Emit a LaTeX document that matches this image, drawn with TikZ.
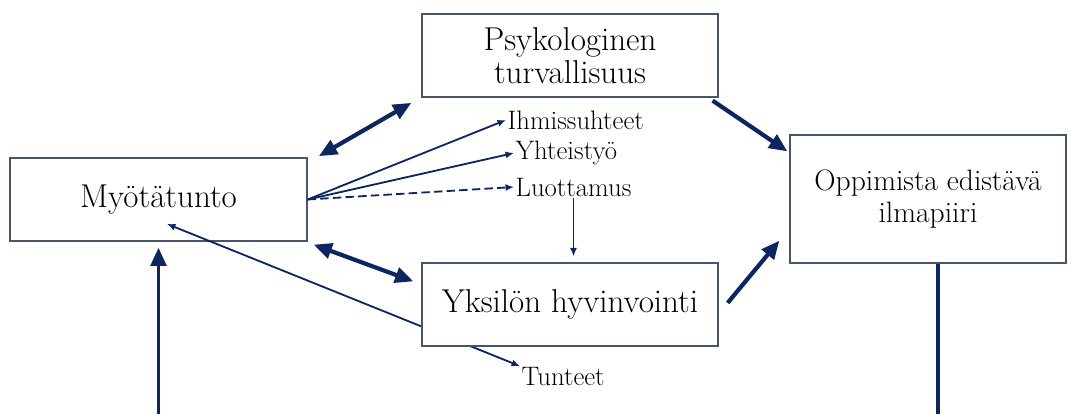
\documentclass[tikz,border=0pt]{standalone}
\usepackage{xcolor}
\usepackage{tikz}
\usetikzlibrary{arrows.meta, positioning, calc}
\definecolor{navy}{RGB}{14,38,96}
\definecolor{boxline}{RGB}{70,86,108}

\begin{document}
\begin{tikzpicture}[>={Latex[length=6pt,width=5pt]},
    laatikko/.style={rectangle,draw=boxline,line width=0.9pt,minimum width=7.4cm,minimum height=2.075cm,align=center,font=\fontsize{23.5}{26}\selectfont},
    pieni/.style={anchor=west,inner sep=1pt,font=\fontsize{19}{22}\selectfont},
    paksu/.style={line width=3pt,navy,>={Triangle[length=13pt,width=11pt]}},
    ohut/.style={line width=1.3pt,navy}]
    \useasboundingbox (0,0) rectangle (26.9,10.35);

    % Laatikot
    \node[laatikko] (psyk) at (14.25,8.9625) {Psykologinen\\[-3pt]turvallisuus};
    \node[laatikko,minimum width=7.425cm] (myot) at (3.9625,5.3625) {Myötätunto};
    \node[laatikko,minimum width=6.9cm,minimum height=3.2cm,font=\fontsize{21}{25}\selectfont] (opp) at (23.2,5.375) {Oppimista edistävä\\[-2pt]ilmapiiri};

    % Osatekijat
    \node[pieni] (ihm) at (12.65,7.35) {Ihmissuhteet};
    \node[pieni] (yht) at (12.85,6.525) {Yhteistyö};
    \node[pieni] (luot) at (12.85,5.675) {Luottamus};
    \node[pieni] (tun) at (13.0,0.925) {Tunteet};

    % Tunteet - viiva jaa laatikon alle
    \coordinate (myotin) at ($(myot.center)+(0.21,-0.61)$);
    \draw[<->,ohut] (myotin) -- (tun.north west);

    \node[laatikko,fill=white] (yks) at (14.25,2.7375) {Yksilön hyvinvointi};

    % Myotatunnosta lahtevat
    \draw[->,ohut] (myot.east) -- (ihm.west);
    \draw[->,ohut] (myot.east) -- (yht.west);
    \draw[->,ohut,dash pattern=on 6pt off 3pt] (myot.east) -- (luot.west);
    \draw[->,ohut] (luot.south) -- ([yshift=0.15cm]luot.south |- yks.north);

    % Paksut nuolet
    \draw[<->,paksu] ([shift={(0.28,0.03)}]myot.north east) -- ([shift={(-0.25,-0.13)}]psyk.south west);
    \draw[<->,paksu] ([shift={(0.15,-0.075)}]myot.south east) -- ([shift={(-0.2,-0.475)}]yks.north west);
    \draw[->,paksu] ([shift={(-0.15,-0.075)}]psyk.south east) -- ([shift={(-0.05,-0.425)}]opp.north west);
    \draw[->,paksu] ([shift={(0.225,0.04)}]yks.east) -- ([shift={(-0.25,0.575)}]opp.south west);

    % Alaosan pystyviivat
    \coordinate (alav) at (myot.south |- 0,0);
    \coordinate (alao) at ([xshift=0.25cm]opp.south |- 0,0);
    \draw[->,paksu,line width=2.8pt,shorten >=0.15cm] (alav) -- (myot.south);
    \draw[paksu,line width=2.8pt] ([xshift=0.25cm]opp.south) -- (alao);
\end{tikzpicture}
\end{document}
